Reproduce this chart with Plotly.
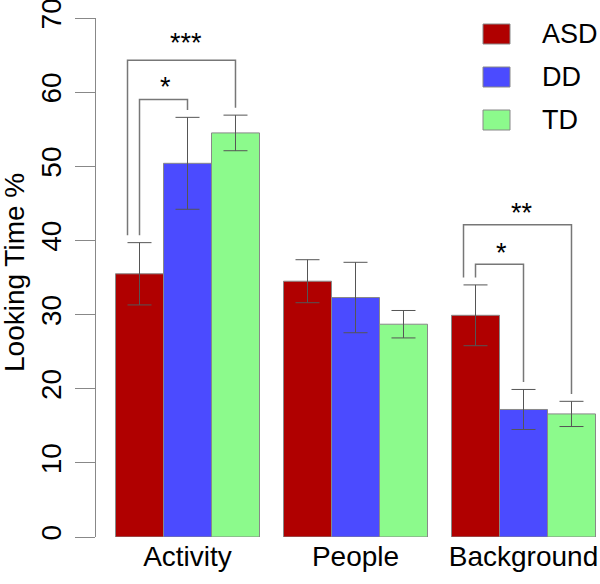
import plotly.graph_objects as go

# Data
categories = ["Activity", "People", "Background"]
groups = ["ASD", "DD", "TD"]
colors = ["#B00000", "#4B4BFF", "#8CFA8C"]

asd_mean = [35.5, 34.5, 29.9]
asd_err = [4.2, 2.9, 4.1]
dd_mean = [50.4, 32.3, 17.2]
dd_err = [6.2, 4.75, 2.7]
td_mean = [54.5, 28.7, 16.6]
td_err = [2.4, 1.85, 1.7]

means = [asd_mean, dd_mean, td_mean]
errs = [asd_err, dd_err, td_err]

# significance brackets: category index, bars compared, bracket height, label
sig_group = [0, 0, 2, 2]
sig_from = [0, 0, 0, 0]
sig_to = [2, 1, 2, 1]
sig_height = [64.3, 59.0, 42.1, 36.8]
sig_text_y = [67.0, 61.0, 44.0, 38.6]
sig_label = ["***", "*", "**", "*"]

# layout geometry (pixels)
W, H = 600, 584
ML, MR, MT, MB = 96, 2, 18, 47
PW, PH = W - ML - MR, H - MT - MB
GROUP_PX = 168.0
X0 = -(187.5 - ML) / GROUP_PX
X1 = X0 + PW / GROUP_PX
BAR_W = (1 - 0.143) / 3
FONT = "Liberation Sans, Arial, sans-serif"
FS = 28

fig = go.Figure()
for g, name in enumerate(groups):
    fig.add_trace(go.Bar(
        x=categories, y=means[g], name=name,
        marker=dict(color=colors[g], line=dict(color="#888888", width=1)),
        error_y=dict(type="data", array=errs[g], color="#555555",
                     thickness=1, width=12),
        showlegend=False,
    ))

# brackets
for k in range(len(sig_label)):
    c = sig_group[k]
    a, b = sig_from[k], sig_to[k]
    xa = c + (a - 1) * BAR_W
    xb = c + (b - 1) * BAR_W
    # outer bracket leg shifted left so the two legs do not overlap
    if b - a > 1:
        xa -= 12 / GROUP_PX
    ya = means[a][c] + errs[a][c] + 1.0
    yb = means[b][c] + errs[b][c] + 1.0
    h = sig_height[k]
    fig.add_trace(go.Scatter(
        x=[xa, xa, xb, xb], y=[ya, h, h, yb], mode="lines",
        line=dict(color="#777777", width=1.5), showlegend=False,
        hoverinfo="skip", xaxis="x2",
    ))
    fig.add_annotation(
        x=(xa + xb) / 2 + (4 / GROUP_PX if b - a > 1 else 1.5 / GROUP_PX),
        y=sig_text_y[k], yshift=-19.6,
        xref="x2", yref="y", text=sig_label[k], showarrow=False,
        yanchor="bottom", font=dict(size=27, color="black", family=FONT),
    )

# legend drawn by hand (pixel coordinates)
def paper_x(px):
    return (px - ML) / PW

def paper_y(py):
    return (MT + PH - py) / PH

for g, name in enumerate(groups):
    cy = 34 + 43 * g
    fig.add_shape(type="rect", xref="paper", yref="paper",
                  x0=paper_x(483), x1=paper_x(510),
                  y0=paper_y(cy + 10), y1=paper_y(cy - 10),
                  fillcolor=colors[g], line=dict(color="#888888", width=1))
    fig.add_annotation(x=paper_x(540), y=paper_y(cy), xref="paper", yref="paper",
                       text=name, showarrow=False, xanchor="left",
                       yanchor="middle",
                       font=dict(size=27, color="black", family=FONT))

# y axis title
fig.add_annotation(x=paper_x(14), y=paper_y(273), xref="paper", yref="paper",
                   text="Looking Time %", textangle=-90, showarrow=False,
                   xanchor="center", yanchor="middle",
                   font=dict(size=FS, color="black", family=FONT))

fig.update_layout(
    width=W, height=H, margin=dict(l=ML, r=MR, t=MT, b=MB),
    paper_bgcolor="white", plot_bgcolor="white",
    barmode="group", bargap=0.143, bargroupgap=0,
    font=dict(family=FONT, size=FS, color="black"),
    xaxis=dict(range=[X0, X1], showgrid=False, zeroline=False,
               showline=False, ticks="", tickfont=dict(size=FS),
               automargin=False),
    xaxis2=dict(range=[X0, X1], overlaying="x", visible=False),
    yaxis=dict(range=[0, 70], tickvals=[0, 10, 20, 30, 40, 50, 60, 70],
               showgrid=False, zeroline=False, showline=True,
               linecolor="#888888", linewidth=1, ticks="outside",
               ticklen=20, tickcolor="#888888", tickangle=-90,
               tickfont=dict(size=FS), automargin=False,
               ticklabeloverflow="allow", ticklabelstandoff=3),
)

# drop the browser's default body margin so the figure sits at the page corner
fig.write_html("out.html", config={"displayModeBar": False},
               post_script="document.body.style.margin='0';")
